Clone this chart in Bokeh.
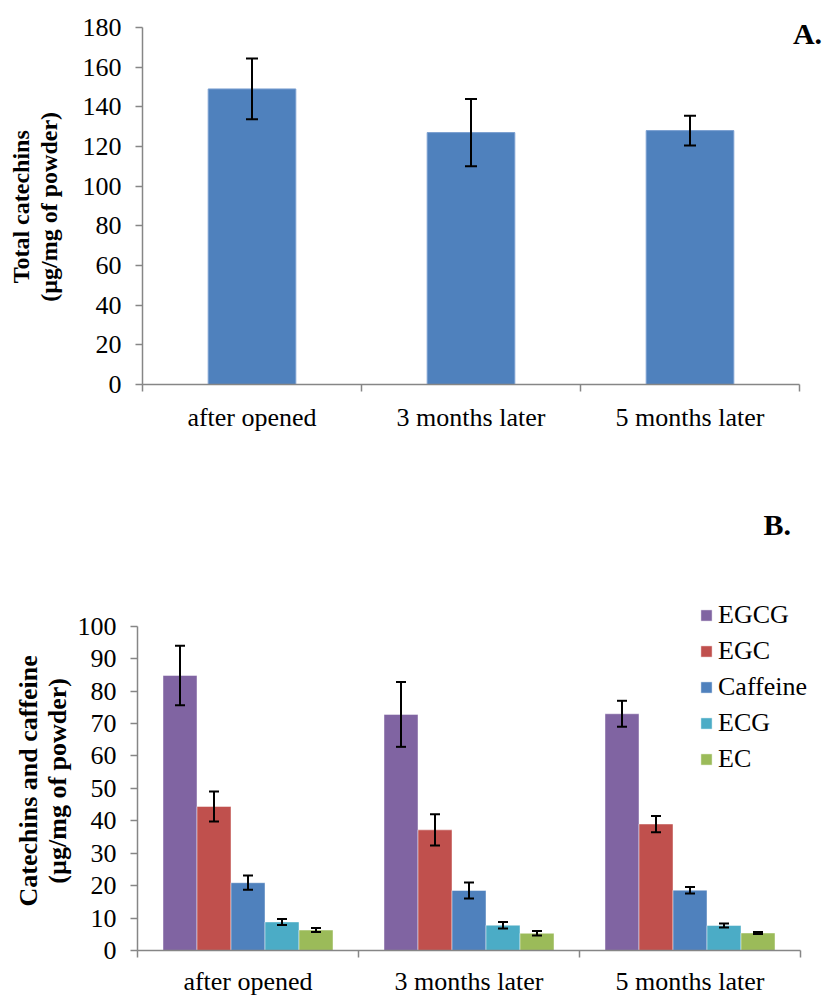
import numpy as np
from bokeh.plotting import figure
from bokeh.models import (ColumnDataSource, Whisker, TeeHead, FixedTicker, Range1d,
                          Legend, LegendItem, Label)
from bokeh.layouts import column, row
from bokeh.embed import file_html
from bokeh.resources import INLINE

# ---------------- data ----------------
categories = ["after opened", "3 months later", "5 months later"]

total_catechins = [149.0, 127.0, 128.0]
total_catechins_err = [15.3, 17.0, 7.5]

series_names = ["EGCG", "EGC", "Caffeine", "ECG", "EC"]
egcg = [84.8, 72.8, 73.0]
egcg_err = [9.2, 10.0, 4.0]
egc = [44.4, 37.2, 39.0]
egc_err = [4.6, 4.8, 2.5]
caffeine = [20.9, 18.5, 18.6]
caffeine_err = [2.2, 2.5, 1.0]
ecg = [8.8, 7.8, 7.7]
ecg_err = [0.9, 1.0, 0.6]
ec = [6.3, 5.3, 5.4]
ec_err = [0.6, 0.7, 0.3]

yticks_a = list(range(0, 181, 20))
yticks_b = list(range(0, 101, 10))

ylabel_a = ["Total catechins", "(µg/mg of powder)"]
ylabel_b = ["Catechins and caffeine", "(µg/mg of powder)"]

series_values = [egcg, egc, caffeine, ecg, ec]
series_errors = [egcg_err, egc_err, caffeine_err, ecg_err, ec_err]
series_colors = ["#8064A2", "#C0504D", "#4F81BD", "#4BACC6", "#9BBB59"]

# ---------------- style ----------------
FONT = "Liberation Serif"
GRAY = "#868686"
TXT = "#000000"

n = len(categories)
centers = np.arange(n) + 0.5
bounds = np.arange(n + 1)

LW = 72          # width of the side strip holding the y-axis title
PW = 824 - LW    # width of each plot figure
HA = 470
HB = 999 - HA


def style_axes(p, yticks, xstandoff):
    p.xgrid.visible = False
    p.ygrid.visible = False
    p.outline_line_color = None
    p.background_fill_color = "white"
    p.border_fill_color = "white"

    xa = p.xaxis[0]
    xa.bounds = (0, n)
    xa.ticker = FixedTicker(ticks=list(centers), minor_ticks=list(bounds))
    xa.major_label_overrides = {float(c): cat for c, cat in zip(centers, categories)}
    xa.major_tick_out = 0
    xa.major_tick_in = 0
    xa.minor_tick_out = 7
    xa.minor_tick_in = 0
    xa.minor_tick_line_color = GRAY
    xa.minor_tick_line_width = 1.5
    xa.axis_line_color = GRAY
    xa.axis_line_width = 1.5
    xa.major_label_text_font = FONT
    xa.major_label_text_font_size = "26px"
    xa.major_label_text_color = TXT
    xa.major_label_standoff = xstandoff

    ya = p.yaxis[0]
    ya.bounds = (yticks[0], yticks[-1])
    ya.ticker = FixedTicker(ticks=yticks)
    ya.minor_tick_line_color = None
    ya.major_tick_out = 7
    ya.major_tick_in = 0
    ya.major_tick_line_color = GRAY
    ya.major_tick_line_width = 1.5
    ya.axis_line_color = GRAY
    ya.axis_line_width = 1.5
    ya.major_label_text_font = FONT
    ya.major_label_text_font_size = "26px"
    ya.major_label_text_color = TXT
    ya.major_label_standoff = 14


def title_strip(height, lines, xs, ycenter, size):
    s = figure(width=LW, height=height, output_backend="svg", toolbar_location=None,
               x_range=Range1d(0, LW), y_range=Range1d(0, height),
               x_axis_type=None, y_axis_type=None,
               min_border_left=0, min_border_right=0, min_border_top=0,
               min_border_bottom=0)
    s.outline_line_color = None
    s.border_fill_color = "white"
    for t, x in zip(lines, xs):
        s.add_layout(Label(x=x, y=height - ycenter, text=t, angle=np.pi / 2,
                           text_align="center", text_baseline="middle",
                           text_font=FONT, text_font_style="bold",
                           text_font_size=size, text_color=TXT))
    return s


# ---------------- chart A ----------------
a_left = 142 - LW            # frame left inside figure
a_axis_px = 657.0            # pixel length of the 3 categories
a_zero = 384.3               # y pixel of value 0
a_scale = (a_zero - 27.0) / yticks_a[-1]
pA = figure(width=PW, height=HA, output_backend="svg", toolbar_location=None,
            x_range=Range1d(0, n * (PW - a_left) / a_axis_px),
            y_range=Range1d(0, a_zero / a_scale),
            min_border_left=a_left, min_border_right=0, min_border_top=0,
            min_border_bottom=int(round(HA - a_zero)))
style_axes(pA, yticks_a, 11)

srcA = ColumnDataSource(dict(
    x=centers,
    top=total_catechins,
    upper=np.array(total_catechins) + np.array(total_catechins_err),
    lower=np.array(total_catechins) - np.array(total_catechins_err),
))
pA.vbar(x="x", top="top", bottom=0, width=0.4, source=srcA,
        fill_color="#4F81BD", line_color="#7A9FD0", line_width=1)
pA.add_layout(Whisker(base="x", upper="upper", lower="lower", source=srcA,
                      level="overlay", line_color="black", line_width=2,
                      upper_head=TeeHead(size=12, line_color="black", line_width=2),
                      lower_head=TeeHead(size=12, line_color="black", line_width=2)))
pA.add_layout(Label(x=2.97, y=177, text="A.", text_font=FONT, text_font_style="bold",
                    text_font_size="30px", text_color=TXT, text_baseline="middle"))

stripA = title_strip(HA, ylabel_a, [20, 48.5], 206.5 + 46, "24px")

# ---------------- chart B ----------------
b_left = 137 - LW
b_axis_px = 663.0
b_bottom_border = 49
b_zero = HB - b_bottom_border          # frame height in px
b_scale = 3.243
pB = figure(width=PW, height=HB, output_backend="svg", toolbar_location=None,
            x_range=Range1d(0, n * (PW - b_left) / b_axis_px),
            y_range=Range1d(0, b_zero / b_scale),
            min_border_left=b_left, min_border_right=0, min_border_top=0,
            min_border_bottom=b_bottom_border)
style_axes(pB, yticks_b, 9)

k = len(series_names)
bar_w = 1.0 / (k + 1.5)
items = []
for i, (name, vals, errs, col) in enumerate(zip(series_names, series_values,
                                                 series_errors, series_colors)):
    xs = centers + (i - (k - 1) / 2.0) * bar_w
    v = np.array(vals)
    e = np.array(errs)
    src = ColumnDataSource(dict(x=xs, top=v, upper=v + e, lower=v - e))
    r = pB.vbar(x="x", top="top", bottom=0, width=bar_w, source=src,
                fill_color=col, line_color="white", line_alpha=0.45, line_width=1)
    pB.add_layout(Whisker(base="x", upper="upper", lower="lower", source=src,
                          level="overlay", line_color="black", line_width=2,
                          upper_head=TeeHead(size=10, line_color="black", line_width=2),
                          lower_head=TeeHead(size=10, line_color="black", line_width=2)))
    items.append(LegendItem(label=name, renderers=[r]))

legend = Legend(items=items, location=(562, 173), orientation="vertical",
                glyph_width=14, glyph_height=14, label_height=36, spacing=0,
                padding=0, margin=0, label_standoff=5,
                label_text_font=FONT, label_text_font_size="26px",
                label_text_color=TXT, border_line_color=None,
                background_fill_alpha=0)
pB.add_layout(legend)
pB.add_layout(Label(x=2.833, y=131.4, text="B.", text_font=FONT, text_font_style="bold",
                    text_font_size="30px", text_color=TXT, text_baseline="middle"))

stripB = title_strip(HB, ylabel_b, [28, 57], 783 - HA + 29, "26px")

layout = column(row(stripA, pA, spacing=0), row(stripB, pB, spacing=0), spacing=0)
open("out.html", "w").write(file_html(layout, INLINE))
